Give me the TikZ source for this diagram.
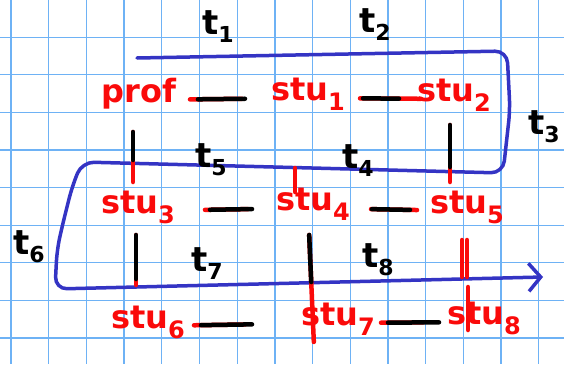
\documentclass[tikz,border=0pt]{standalone}
\usepackage{fontspec}
\setmainfont{DejaVu Sans}
\usetikzlibrary{arrows.meta}
\definecolor{gridblue}{RGB}{110,178,245}
\definecolor{penblue}{RGB}{52,52,196}
\definecolor{penred}{RGB}{250,10,10}
\newcommand{\sidx}[1]{\raisebox{-10pt}{\fontsize{24}{24}\selectfont #1}}
\newcommand{\tidx}[1]{\raisebox{-8pt}{\fontsize{22}{22}\selectfont #1}}

\begin{document}
\begin{tikzpicture}[x=1pt,y=-1pt]
\tikzset{stu/.style={text=penred,inner sep=0pt,anchor=mid,font=\bfseries\fontsize{32}{32}\selectfont},
  tlab/.style={text=black,inner sep=0pt,font=\bfseries\fontsize{34}{34}\selectfont},
  rpen/.style={penred,line width=4.5pt,line cap=round},
  kpen/.style={black,line width=4.5pt,line cap=round},
  bluepen/.style={penblue,line width=3.5pt,line cap=round,rounded corners=12pt}}
\fill[white] (0,0) rectangle (564,364);
\useasboundingbox (0,0) rectangle (564,364);
% grid paper
\foreach \i in {0,...,14} \draw[gridblue,line width=1.3pt] (11+37.7*\i,0) -- (11+37.7*\i,364);
\foreach \j in {1,...,9} \draw[gridblue,line width=1.3pt] (0,-0.4+37.6*\j) -- (564,-0.4+37.6*\j);

% the snake through the rows
\draw[bluepen,-{Straight Barb[length=12pt,width=28pt]}] (137,58) -- (507,51) -- (510,110) -- (503,173)
  -- (82,162) -- (72,187) -- (62,227) -- (57,250) -- (55,289) -- (543,277);

\node (prof) at (139,100) [stu] {prof};
\node (stu1) at (308,98) [stu] {stu\sidx{1}};
\node (stu2) at (454,99) [stu] {stu\sidx{2}};
\node (stu3) at (138,211) [stu] {stu\sidx{3}};
\node (stu4) at (313,208) [stu] {stu\sidx{4}};
\node (stu5) at (467,211) [stu] {stu\sidx{5}};
\node (stu6) at (148,326) [stu] {stu\sidx{6}};
\node (stu7) at (338,323) [stu] {stu\sidx{7}};
\node (stu8) at (484,322) [stu] {stu\sidx{8}};

\node (t1) at (218,27) [tlab] {t\tidx{1}};
\node (t2) at (375,25) [tlab] {t\tidx{2}};
\node (t3) at (544,127) [tlab] {t\tidx{3}};
\node (t4) at (358,161) [tlab] {t\tidx{4}};
\node (t5) at (211,160) [tlab] {t\tidx{5}};
\node (t6) at (29,247) [tlab] {t\tidx{6}};
\node (t7) at (207,264) [tlab] {t\tidx{7}};
\node (t8) at (378,260) [tlab] {t\tidx{8}};

% rows
\path
(prof.mid) edge [rpen, shorten <=51pt, shorten >=66pt] (stu1.mid)
(prof.mid) edge [kpen, shorten <=59pt, shorten >=63pt] (stu1.mid)
(stu1.mid) edge [rpen, shorten <=52pt, shorten >=33pt] (stu2.mid)
(stu1.mid) edge [kpen, shorten <=55pt, shorten >=55pt] (stu2.mid)
(stu3.mid) edge [rpen, shorten <=67pt, shorten >=65pt] (stu4.mid)
(stu3.mid) edge [kpen, shorten <=72pt, shorten >=61pt] (stu4.mid)
(stu4.mid) edge [rpen, shorten <=58pt, shorten >=50pt] (stu5.mid)
(stu4.mid) edge [kpen, shorten <=59pt, shorten >=57pt] (stu5.mid)
(stu6.mid) edge [rpen, shorten <=46pt, shorten >=93pt] (stu7.mid)
(stu6.mid) edge [kpen, shorten <=53pt, shorten >=86pt] (stu7.mid)
(stu7.mid) edge [rpen, shorten <=43pt, shorten >=61pt] (stu8.mid)
(stu7.mid) edge [kpen, shorten <=50pt, shorten >=45pt] (stu8.mid);

% columns
\path
([xshift=-6pt]prof.mid) edge [rpen, shorten <=32pt, shorten >=29pt] ([xshift=-5pt]stu3.mid)
([xshift=-6pt]prof.mid) edge [kpen, shorten <=32pt, shorten >=51pt] ([xshift=-5pt]stu3.mid)
([xshift=-2pt]stu3.mid) edge [rpen, shorten <=24pt, shorten >=41pt] ([xshift=-12pt]stu6.mid)
([xshift=-2pt]stu3.mid) edge [kpen, shorten <=24pt, shorten >=47pt] ([xshift=-12pt]stu6.mid)
([xshift=-13pt]stu1.mid) edge [rpen, shorten <=70pt, shorten >=16pt] ([xshift=-18pt]stu4.mid)
([xshift=-5pt]stu4.mid) edge [rpen, shorten <=27pt, shorten >=-19pt] ([xshift=-25pt]stu7.mid)
([xshift=-5pt]stu4.mid) edge [kpen, shorten <=27pt, shorten >=41pt] ([xshift=-25pt]stu7.mid)
([xshift=-4pt]stu2.mid) edge [rpen, shorten <=26pt, shorten >=29pt] ([xshift=-17pt]stu5.mid)
([xshift=-4pt]stu2.mid) edge [kpen, shorten <=26pt, shorten >=44pt] ([xshift=-17pt]stu5.mid)
([xshift=-5pt]stu5.mid) edge [rpen, shorten <=29pt, shorten >=45pt] ([xshift=-22pt]stu8.mid)
(stu5.mid) edge [rpen, shorten <=29pt, shorten >=45pt] ([xshift=-17pt]stu8.mid)
([xshift=1pt]stu5.mid) edge [rpen, shorten <=76pt, shorten >=-8pt] ([xshift=-16pt]stu8.mid);
\end{tikzpicture}
\end{document}
